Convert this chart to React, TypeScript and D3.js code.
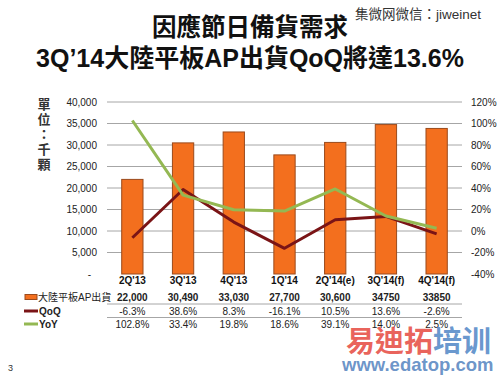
import React from "react";
import * as d3 from "d3";

const categories = ["2Q'13", "3Q'13", "4Q'13", "1Q'14", "2Q'14(e)", "3Q'14(f)", "4Q'14(f)"];
const shipments = [22000, 30490, 33030, 27700, 30600, 34750, 33850];
const shipmentLabels = ["22,000", "30,490", "33,030", "27,700", "30,600", "34750", "33850"];
const qoq = [-6.3, 38.6, 8.3, -16.1, 10.5, 13.6, -2.6];
const qoqLabels = ["-6.3%", "38.6%", "8.3%", "-16.1%", "10.5%", "13.6%", "-2.6%"];
const yoy = [102.8, 33.4, 19.8, 18.6, 39.1, 14.0, 2.5];
const yoyLabels = ["102.8%", "33.4%", "19.8%", "18.6%", "39.1%", "14.0%", "2.5%"];
const leftTicks = [0, 5000, 10000, 15000, 20000, 25000, 30000, 35000, 40000];
const rightTicks = [-40, -20, 0, 20, 40, 60, 80, 100, 120];
const unitChars = ["單", "位", "：", "千", "顆"];

const LATIN = "'Liberation Sans', Arial, 'Noto Sans CJK TC', sans-serif";
const CJK = "'Liberation Sans', 'Noto Sans CJK TC', sans-serif";

const BAR = "#F36F1E";
const BAR_STROKE = "#9A4A1C";
const RED = "#7A1416";
const GREEN = "#94B853";

export default function App() {
  const W = 500, H = 375;
  const x = d3.scaleBand<string>().domain(categories).range([107, 462]).padding(0);
  const yL = d3.scaleLinear().domain([0, 40000]).range([274, 102]);
  const yR = d3.scaleLinear().domain([-40, 120]).range([274, 102]);
  const bw = x.bandwidth() * 0.42;
  const cx = (c: string) => (x(c) as number) + x.bandwidth() / 2;

  const line = d3
    .line<number>()
    .x((_, i) => cx(categories[i]))
    .y((d) => yR(d));

  const fmt = d3.format(",");
  const rowY = [297, 311, 324];

  return (
    <svg
      width={W}
      height={H}
      viewBox={`0 0 ${W} ${H}`}
      style={{ position: "absolute", left: 0, top: 0, background: "#fff" }}
    >
      <rect x={0} y={0} width={W} height={H} fill="#fff" />
      {/* titles */}
      <text x={250} y={36} textAnchor="middle" fontFamily={CJK} fontWeight="bold" fontSize={24.5} fill="#111">
        因應節日備貨需求
      </text>
      <text x={250} y={67} textAnchor="middle" fontFamily={CJK} fontWeight="bold" fontSize={25} fill="#111">
        3Q’14大陸平板AP出貨QoQ將達13.6%
      </text>
      <text x={355} y={19} fontFamily={CJK} fontSize={13.5} fill="#333">
        集微网微信：jiweinet
      </text>

      {/* unit label */}
      {unitChars.map((ch, i) => (
        <text
          key={i}
          x={44}
          y={104 + i * 15}
          textAnchor="middle"
          dominantBaseline="central"
          fontFamily={CJK}
          fontWeight="bold"
          fontSize={13}
          fill="#333"
        >
          {ch}
        </text>
      ))}

      {/* gridlines */}
      {leftTicks
        .filter((t) => t > 0)
        .map((t) => (
          <line key={t} x1={107} x2={462} y1={yL(t)} y2={yL(t)} stroke="#a6a6a6" strokeWidth={1} />
        ))}

      {/* left axis labels */}
      {leftTicks.map((t) => (
        <text
          key={t}
          x={t === 0 ? 91 : 97}
          y={yL(t)}
          textAnchor="end"
          dominantBaseline="central"
          fontFamily={LATIN}
          fontSize={10}
          fill="#222"
        >
          {t === 0 ? "-" : fmt(t)}
        </text>
      ))}

      {/* right axis labels */}
      {rightTicks.map((t) => (
        <text
          key={t}
          x={471}
          y={yR(t)}
          dominantBaseline="central"
          fontFamily={LATIN}
          fontSize={10}
          fill="#222"
        >
          {t + "%"}
        </text>
      ))}

      {/* bars */}
      {shipments.map((v, i) => (
        <rect
          key={i}
          x={cx(categories[i]) - bw / 2}
          y={yL(v)}
          width={bw}
          height={yL(0) - yL(v)}
          fill={BAR}
          stroke={BAR_STROKE}
          strokeWidth={1}
        />
      ))}

      {/* lines */}
      <path d={line(qoq) || ""} fill="none" stroke={RED} strokeWidth={3} strokeLinejoin="round" />
      <path d={line(yoy) || ""} fill="none" stroke={GREEN} strokeWidth={3} strokeLinejoin="round" />

      {/* category labels */}
      {categories.map((c) => (
        <text
          key={c}
          x={cx(c)}
          y={280}
          textAnchor="middle"
          dominantBaseline="central"
          fontFamily={LATIN}
          fontWeight="bold"
          fontSize={10}
          fill="#111"
        >
          {c}
        </text>
      ))}

      {/* data table separators */}
      <line x1={107} x2={462} y1={304} y2={304} stroke="#a6a6a6" strokeWidth={1} />
      <line x1={107} x2={462} y1={317.5} y2={317.5} stroke="#a6a6a6" strokeWidth={1} />

      {/* legend keys */}
      <rect x={25} y={294.5} width={12} height={5} fill={BAR} stroke={BAR_STROKE} strokeWidth={1} />
      <line x1={24} x2={38} y1={rowY[1]} y2={rowY[1]} stroke={RED} strokeWidth={3} />
      <line x1={24} x2={38} y1={rowY[2]} y2={rowY[2]} stroke={GREEN} strokeWidth={3} />
      <text x={38} y={rowY[0]} dominantBaseline="central" fontFamily={CJK} fontSize={10} fill="#222">
        大陸平板AP出貨
      </text>
      <text x={39} y={rowY[1]} dominantBaseline="central" fontFamily={LATIN} fontWeight="bold" fontSize={10} fill="#222">
        QoQ
      </text>
      <text x={39} y={rowY[2]} dominantBaseline="central" fontFamily={LATIN} fontWeight="bold" fontSize={10} fill="#222">
        YoY
      </text>

      {/* table values */}
      {[shipmentLabels, qoqLabels, yoyLabels].map((row, r) =>
        row.map((lab, i) => (
          <text
            key={r + "-" + i}
            x={cx(categories[i])}
            y={rowY[r]}
            textAnchor="middle"
            dominantBaseline="central"
            fontFamily={LATIN}
            fontWeight={r === 0 ? "bold" : "normal"}
            fontSize={10}
            fill="#222"
          >
            {lab}
          </text>
        ))
      )}

      {/* page number */}
      <text x={8} y={371} fontFamily={LATIN} fontSize={9} fill="#333">3</text>

      {/* watermark */}
      <text x={346} y={352} fontFamily={CJK} fontWeight="bold" fontSize={29} fillOpacity={0.85}>
        <tspan fill="#E5483E">易迪拓</tspan>
        <tspan fill="#4F86C6">培训</tspan>
      </text>
      <text x={342} y={371} fontFamily={LATIN} fontWeight="bold" fontSize={18.5} fill="#5A88C2" fillOpacity={0.9}>
        www.edatop.com
      </text>
    </svg>
  );
}
